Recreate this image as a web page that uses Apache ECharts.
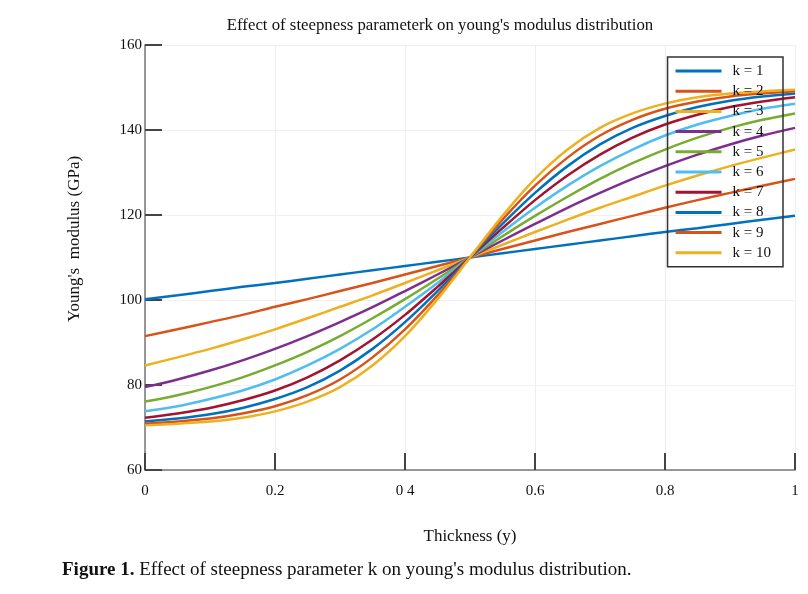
<!DOCTYPE html>
<html>
<head>
<meta charset="utf-8">
<script src="https://cdn.jsdelivr.net/npm/echarts@6/dist/echarts.min.js"></script>
<style>
  html, body { margin: 0; padding: 0; background: #fff; }
  #chart { width: 808px; height: 594px; }
</style>
</head>
<body>
<div id="chart"></div>
<script>
const thickness = [0, 0.05, 0.1, 0.15, 0.2, 0.25, 0.3, 0.35, 0.4, 0.45, 0.5, 0.55, 0.6, 0.65, 0.7, 0.75, 0.8, 0.85, 0.9, 0.95, 1];
const xTickLabels = ['0', '0.2', '0 4', '0.6', '0.8', '1'];
const seriesNames = ['k = 1', 'k = 2', 'k = 3', 'k = 4', 'k = 5', 'k = 6', 'k = 7', 'k = 8', 'k = 9', 'k = 10'];

// Young's modulus (GPa) at the thickness points above
const k1 = [100.2, 101.1, 102.1, 103.1, 104.0, 105.0, 106.0, 107.0, 108.0, 109.0, 110, 111.0, 112.0, 113.0, 114.0, 115.0, 116.0, 116.9, 117.9, 118.9, 119.8];
const k2 = [91.5, 93.1, 94.8, 96.5, 98.4, 100.2, 102.1, 104.0, 106.0, 108.0, 110, 112.0, 114.0, 116.0, 117.9, 119.8, 121.7, 123.5, 125.2, 126.9, 128.5];
const k3 = [84.6, 86.5, 88.5, 90.7, 93.1, 95.7, 98.4, 101.1, 104.0, 107.0, 110, 113.0, 116.0, 118.9, 121.7, 124.3, 126.9, 129.3, 131.5, 133.5, 135.4];
const k4 = [79.5, 81.3, 83.4, 85.8, 88.5, 91.5, 94.8, 98.3, 102.1, 106.0, 110, 114.0, 117.9, 121.7, 125.2, 128.5, 131.5, 134.2, 136.6, 138.7, 140.5];
const k5 = [76.1, 77.6, 79.5, 81.8, 84.6, 87.8, 91.5, 95.7, 100.2, 105.0, 110, 115.0, 119.8, 124.3, 128.5, 132.2, 135.4, 138.2, 140.5, 142.4, 143.9];
const k6 = [73.8, 75.0, 76.7, 78.7, 81.3, 84.6, 88.5, 93.1, 98.4, 104.0, 110, 116.0, 121.7, 126.9, 131.5, 135.4, 138.7, 141.3, 143.3, 145.0, 146.2];
const k7 = [72.3, 73.3, 74.6, 76.4, 78.7, 81.8, 85.8, 90.7, 96.5, 103.1, 110, 116.9, 123.5, 129.3, 134.2, 138.2, 141.3, 143.6, 145.4, 146.7, 147.7];
const k8 = [71.4, 72.1, 73.1, 74.6, 76.7, 79.5, 83.4, 88.5, 94.8, 102.1, 110, 117.9, 125.2, 131.5, 136.6, 140.5, 143.3, 145.4, 146.9, 147.9, 148.6];
const k9 = [70.9, 71.4, 72.1, 73.3, 75.0, 77.6, 81.3, 86.5, 93.1, 101.1, 110, 118.9, 126.9, 133.5, 138.7, 142.4, 145.0, 146.7, 147.9, 148.6, 149.1];
const k10 = [70.5, 70.9, 71.4, 72.3, 73.8, 76.1, 79.5, 84.6, 91.5, 100.2, 110, 119.8, 128.5, 135.4, 140.5, 143.9, 146.2, 147.7, 148.6, 149.1, 149.5];

const allValues = [k1, k2, k3, k4, k5, k6, k7, k8, k9, k10];
const colors = ['#0072BD', '#D95319', '#EDB120', '#7E2F8E', '#77AC30', '#4DBEEE', '#A2142F', '#0072BD', '#D95319', '#EDB120'];

const serif = '"Liberation Serif", "DejaVu Serif", serif';

const chart = echarts.init(document.getElementById('chart'), null, { renderer: 'canvas' });

chart.setOption({
  animation: false,
  backgroundColor: '#fff',
  title: {
    text: 'Effect of steepness parameterk on young\'s modulus distribution',
    left: 435,
    top: 12,
    textAlign: 'center',
    textStyle: { fontFamily: serif, fontSize: 16.8, fontWeight: 'normal', color: '#111' },
  },
  legend: {
    orient: 'vertical',
    right: 25,
    top: 57,
    data: seriesNames,
    icon: 'rect',
    itemWidth: 46,
    itemHeight: 3,
    itemGap: 4.2,
    padding: [6, 12, 6, 8],
    backgroundColor: 'transparent',
    borderColor: '#333',
    borderWidth: 1.5,
    borderRadius: 0,
    textStyle: { fontFamily: serif, fontSize: 15, color: '#111', lineHeight: 16, padding: [0, 0, 0, 6] },
  },
  grid: { left: 145, right: 13, top: 45, bottom: 124 },
  xAxis: {
    type: 'value',
    min: 0,
    max: 1,
    interval: 0.2,
    name: 'Thickness (y)',
    nameLocation: 'middle',
    nameGap: 58,
    nameTextStyle: { fontFamily: serif, fontSize: 17, color: '#111' },
    axisLine: { lineStyle: { color: '#777', width: 1.5 } },
    axisTick: { inside: true, length: 17, lineStyle: { color: '#444', width: 2 } },
    axisLabel: {
      margin: 14,
      fontFamily: serif,
      fontSize: 15,
      color: '#111',
      formatter: (v) => xTickLabels[Math.round(v / 0.2)],
    },
    splitLine: { show: true, lineStyle: { color: '#eeeeee', width: 1 } },
  },
  yAxis: {
    type: 'value',
    min: 60,
    max: 160,
    interval: 20,
    axisLine: { show: true, lineStyle: { color: '#777', width: 1.5 } },
    axisTick: { show: true, inside: true, length: 17, lineStyle: { color: '#444', width: 2 } },
    axisLabel: { margin: 3, fontFamily: serif, fontSize: 15, color: '#111' },
    splitLine: { show: true, lineStyle: { color: '#f0f0f0', width: 1 } },
  },
  series: allValues.map((vals, i) => ({
    name: seriesNames[i],
    type: 'line',
    smooth: 0.3,
    showSymbol: false,
    symbol: 'none',
    color: colors[i],
    lineStyle: { width: 2.5, color: colors[i] },
    data: thickness.map((t, j) => [t, vals[j]]),
    z: 3,
  })),
  graphic: [
    {
      // y-axis title sits a bit above the plot's middle in the source figure
      type: 'text',
      x: 75,
      y: 239,
      rotation: Math.PI / 2,
      style: {
        text: 'Young\'s  modulus (GPa)',
        fontFamily: serif,
        fontSize: 17,
        fill: '#111',
        align: 'center',
        verticalAlign: 'middle',
      },
    },
    {
      type: 'text',
      left: 62,
      top: 561,
      style: {
        text: '{b|Figure 1.} Effect of steepness parameter k on young\'s modulus distribution.',
        rich: {
          b: { fontFamily: serif, fontSize: 19, fontWeight: 'bold', fill: '#111' },
        },
        fontFamily: serif,
        fontSize: 19,
        fill: '#111',
      },
    },
  ],
});
</script>
</body>
</html>
